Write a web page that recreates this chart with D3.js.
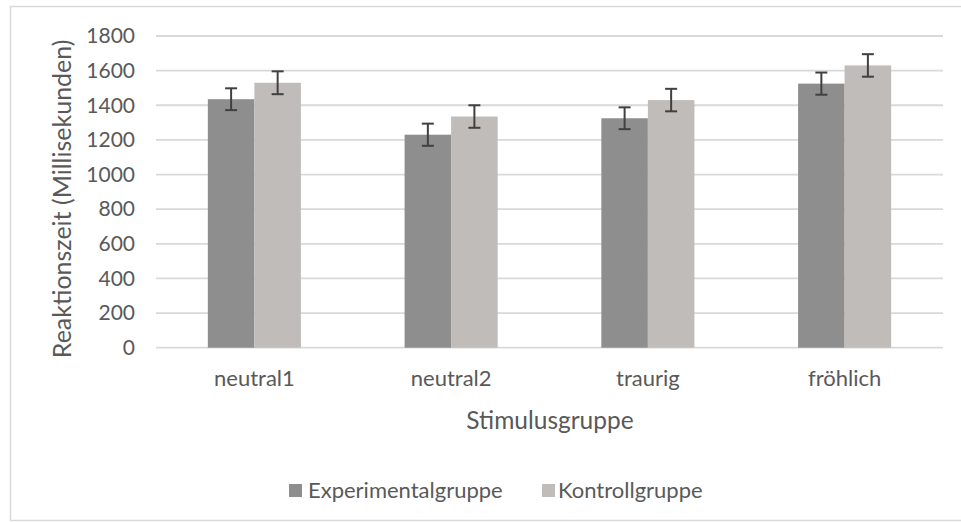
<!DOCTYPE html>
<html>
<head>
<meta charset="utf-8">
<script src="https://cdn.jsdelivr.net/npm/d3@7"></script>
<style>
  html, body { margin: 0; padding: 0; background: #ffffff; }
  svg { display: block; }
  text { font-family: Lato, "Open Sans", sans-serif; fill: #595959; }
</style>
</head>
<body>
<svg id="chart" width="961" height="522"></svg>
<script>
// ---- data ----
const categories = ["neutral1", "neutral2", "traurig", "fröhlich"];
const seriesNames = ["Experimentalgruppe", "Kontrollgruppe"];
const experimentalValues = [1435, 1230, 1325, 1525];
const experimentalErrors = [63, 64, 63, 64];
const kontrollValues = [1530, 1335, 1430, 1630];
const kontrollErrors = [66, 65, 65, 65];
const yTicks = [0, 200, 400, 600, 800, 1000, 1200, 1400, 1600, 1800];
const xAxisTitle = "Stimulusgruppe";
const yAxisTitle = "Reaktionszeit (Millisekunden)";

const colors = ["#8e8e8e", "#bfbcb9"];

const rows = categories.map((c, i) => ({
  category: c,
  values: [
    { series: seriesNames[0], value: experimentalValues[i], err: experimentalErrors[i] },
    { series: seriesNames[1], value: kontrollValues[i], err: kontrollErrors[i] }
  ]
}));

const svg = d3.select("#chart");

// outer chart border
svg.append("rect")
  .attr("x", 10.5).attr("y", 6.5)
  .attr("width", 960).attr("height", 514)
  .attr("fill", "#ffffff")
  .attr("stroke", "#d9d9d9").attr("stroke-width", 1.5);

const plot = { left: 156, right: 943, top: 36, bottom: 347.7 };

const x0 = d3.scaleBand()
  .domain(categories)
  .range([plot.left, plot.right])
  .paddingInner(0.527)
  .paddingOuter(0.2635);

const x1 = d3.scaleBand()
  .domain(seriesNames)
  .range([0, x0.bandwidth()])
  .padding(0);

const y = d3.scaleLinear()
  .domain([0, 1800])
  .range([plot.bottom, plot.top]);

const color = d3.scaleOrdinal().domain(seriesNames).range(colors);

// gridlines
svg.append("g")
  .selectAll("line")
  .data(yTicks)
  .join("line")
  .attr("x1", plot.left).attr("x2", plot.right)
  .attr("y1", d => y(d)).attr("y2", d => y(d))
  .attr("stroke", "#d9d9d9").attr("stroke-width", 1.8);

// y axis labels
const yAxis = d3.axisLeft(y).tickValues(yTicks).tickFormat(d3.format("d")).tickSize(0).tickPadding(0);
const yg = svg.append("g")
  .attr("transform", `translate(${plot.left - 21},0)`)
  .call(yAxis);
yg.select(".domain").remove();
yg.selectAll("text")
  .style("font-size", "21px")
  .attr("fill", "#595959")
  .style("font-family", "Lato, 'Open Sans', sans-serif");

// bars
const groups = svg.append("g")
  .selectAll("g")
  .data(rows)
  .join("g")
  .attr("transform", d => `translate(${x0(d.category)},0)`);

groups.selectAll("rect")
  .data(d => d.values)
  .join("rect")
  .attr("x", d => x1(d.series))
  .attr("width", x1.bandwidth())
  .attr("y", d => y(d.value))
  .attr("height", d => y(0) - y(d.value))
  .attr("fill", d => color(d.series));

// error bars
const capW = 12;
const eb = groups.selectAll("g.err")
  .data(d => d.values)
  .join("g")
  .attr("class", "err")
  .attr("stroke", "#404040")
  .attr("stroke-width", 2);
eb.append("line")
  .attr("x1", d => x1(d.series) + x1.bandwidth() / 2)
  .attr("x2", d => x1(d.series) + x1.bandwidth() / 2)
  .attr("y1", d => y(d.value + d.err))
  .attr("y2", d => y(d.value - d.err));
eb.append("line")
  .attr("x1", d => x1(d.series) + x1.bandwidth() / 2 - capW / 2)
  .attr("x2", d => x1(d.series) + x1.bandwidth() / 2 + capW / 2)
  .attr("y1", d => y(d.value + d.err))
  .attr("y2", d => y(d.value + d.err));
eb.append("line")
  .attr("x1", d => x1(d.series) + x1.bandwidth() / 2 - capW / 2)
  .attr("x2", d => x1(d.series) + x1.bandwidth() / 2 + capW / 2)
  .attr("y1", d => y(d.value - d.err))
  .attr("y2", d => y(d.value - d.err));

// x axis labels
const xAxis = d3.axisBottom(x0).tickSize(0).tickPadding(0);
const xg = svg.append("g")
  .attr("transform", `translate(0,${plot.bottom + 23})`)
  .call(xAxis);
xg.select(".domain").remove();
xg.selectAll("text")
  .style("font-size", "22px")
  .attr("fill", "#595959")
  .style("font-family", "Lato, 'Open Sans', sans-serif");

// axis titles
svg.append("text")
  .attr("x", 550).attr("y", 429)
  .attr("text-anchor", "middle")
  .style("font-size", "24.5px")
  .text(xAxisTitle);

svg.append("text")
  .attr("transform", `translate(71,${(plot.top + plot.bottom) / 2 + 7}) rotate(-90)`)
  .attr("text-anchor", "middle")
  .style("font-size", "25px")
  .text(yAxisTitle);

// legend
const legendItems = [
  { name: seriesNames[0], sx: 289, tx: 308 },
  { name: seriesNames[1], sx: 542, tx: 558 }
];
const lg = svg.append("g");
lg.selectAll("rect")
  .data(legendItems)
  .join("rect")
  .attr("x", d => d.sx).attr("y", 484)
  .attr("width", 13).attr("height", 13)
  .attr("fill", d => color(d.name));
lg.selectAll("text")
  .data(legendItems)
  .join("text")
  .attr("x", d => d.tx).attr("y", 498)
  .style("font-size", "22px")
  .text(d => d.name);
</script>
</body>
</html>
